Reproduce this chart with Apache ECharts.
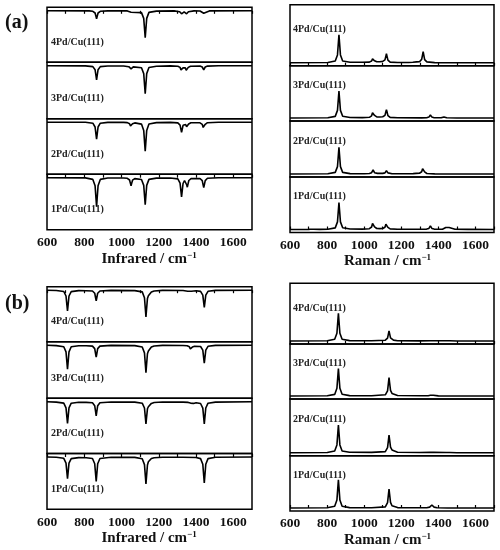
<!DOCTYPE html>
<html>
<head>
<meta charset="utf-8">
<script src="https://cdn.jsdelivr.net/npm/echarts@6/dist/echarts.min.js"></script>
<style>
  html, body { margin: 0; padding: 0; background: #fff; }
  #chart { width: 500px; height: 550px; }
</style>
</head>
<body>
<div id="chart"></div>
<script>
// wavenumber axis (cm^-1)
const xMin = 600;
const xMax = 1700;
const xTickLabels = [600, 800, 1000, 1200, 1400, 1600];
const sampleNames = ["4Pd/Cu(111)", "3Pd/Cu(111)", "2Pd/Cu(111)", "1Pd/Cu(111)"];

// (a) infrared, [wavenumber, intensity] (dips are negative)
const irA1 = [[600,0],[806,-0.2],[846,-1.7],[858,-8.1],[863,-21],[866,-29],[869,-21],[874,-8.1],[886,-1.7],[926,-0.3],
  [1011,-0.3],[1031,-0.6],[1043,-2.3],[1048,-5.9],[1051,-8],[1054,-5.9],[1059,-2.5],[1071,-0.9],
  [1107,-1.8],[1119,-7.7],[1124,-19.8],[1127,-27],[1130,-19.8],[1135,-7.7],[1147,-1.7],[1187,-0.4],
  [1262,-0.3],[1302,-1.2],[1314,-5.4],[1319,-14],[1322,-19.2],[1325,-14.2],[1330,-5.8],[1338,-2.8],[1345,-3.6],[1350,-7.3],[1353,-9.5],[1356,-7],[1361,-2.8],[1373,-0.9],
  [1421,-0.8],[1433,-2.9],[1438,-7.4],[1441,-10],[1444,-7.4],[1449,-2.9],[1461,-0.6],[1520,-0.1],[1700,0]];
const irA2 = [[600,0],[806,-0.1],[846,-1],[858,-4.8],[863,-12.4],[866,-17],[869,-12.4],[874,-4.8],[886,-1],[926,-0.2],
  [1011,-0.2],[1031,-0.4],[1043,-1.5],[1048,-3.7],[1051,-5],[1054,-3.7],[1059,-1.6],[1071,-0.7],
  [1107,-1.9],[1119,-8.2],[1124,-21.2],[1127,-29],[1130,-21.2],[1135,-8.2],[1147,-1.8],[1187,-0.4],
  [1262,-0.2],[1302,-0.7],[1314,-2.9],[1319,-7.4],[1322,-10.2],[1325,-7.6],[1330,-3.1],[1337,-1.6],[1344,-2.3],[1349,-4.6],[1352,-6.2],[1355,-4.6],[1360,-1.8],[1372,-0.6],
  [1421,-0.6],[1433,-2.1],[1438,-5.2],[1441,-7],[1444,-5.2],[1449,-2.1],[1461,-0.5],[1520,-0.1],[1700,0]];
const irA3 = [[600,0],[806,-0.1],[846,-0.8],[858,-3.9],[863,-10.2],[866,-14],[869,-10.2],[874,-3.9],[886,-0.8],[926,-0.2],
  [1011,-0.2],[1039,-0.9],[1051,-3],[1063,-1.1],
  [1107,-1.9],[1119,-7.8],[1124,-20.4],[1127,-28],[1130,-20.4],[1135,-7.8],[1147,-1.7],[1187,-0.4],
  [1262,-0.1],[1302,-0.4],[1314,-1.6],[1319,-4.1],[1322,-5.7],[1325,-4.4],[1330,-2.1],[1336,-1.8],[1342,-2.1],[1347,-4.4],[1350,-5.7],[1353,-4.1],[1358,-1.6],[1370,-0.4],
  [1421,-0.3],[1433,-1.2],[1441,-4],[1449,-1.2],[1461,-0.3],[1520,0],[1700,0]];
const irA4 = [[600,0],[826,-0.1],[846,-0.5],[858,-2.2],[863,-5.8],[866,-8],[869,-5.8],[874,-2.2],[886,-0.5],[926,-0.1],
  [1031,-0.1],[1041,-0.5],[1051,-1.5],[1061,-0.6],
  [1107,-1.8],[1119,-7.6],[1124,-19.7],[1127,-27],[1130,-19.7],[1135,-7.6],[1147,-1.6],[1187,-0.3],
  [1282,-0.1],[1312,-0.9],[1322,-3],[1330,-1.4],[1336,-1.1],[1341,-1.4],[1349,-3],[1359,-0.9],[1389,-0.1],
  [1421,-0.2],[1431,-0.8],[1441,-2.5],[1451,-0.8],[1471,-0.1],[1700,0]];

// (a) Raman
const raA1 = [[600,0],[700,0.1],[712,0.2],[720,0.4],[728,0.2],[760,0.1],[804,0.2],[844,1.6],[856,7.6],[861,19.7],[864,27],[867,19.7],[872,7.6],[884,1.7],[924,0.5],
  [990,0.4],[1028,0.8],[1040,2.5],[1045,6],[1048,8],[1051,6.1],[1056,2.7],[1068,1],[1084,0.9],[1100,1],[1112,2.3],[1117,5.3],[1120,7],[1123,5.2],[1128,2.1],[1140,0.6],[1180,0.2],
  [1300,0.2],[1337,0.4],[1349,1.1],[1357,3.7],[1365,1.1],[1377,0.4],[1422,0.3],[1432,0.8],[1440,2],[1449,1.2],[1458,2],[1466,0.7],[1490,0.2],[1560,0.1],[1700,0]];
const raA2 = [[600,0],[804,0.2],[844,1.6],[856,7.4],[861,19.4],[864,26.6],[867,19.4],[872,7.4],[884,1.6],[924,0.4],
  [1000,0.3],[1028,0.5],[1040,1.3],[1048,4],[1056,1.3],[1072,0.6],[1100,0.6],[1112,1.1],[1120,3.3],[1128,1.1],[1150,0.3],
  [1240,0.2],[1264,0.4],[1272,1.3],[1280,0.6],[1298,0.8],[1310,2.2],[1315,5.4],[1318,7.3],[1321,5.3],[1326,2.1],[1338,0.5],[1380,0.1],[1700,0]];
const raA3 = [[600,0],[804,0.2],[844,1.6],[856,7.6],[861,19.7],[864,27],[867,19.7],[872,7.6],[884,1.7],[924,0.5],
  [990,0.4],[1028,0.7],[1040,2.2],[1045,5.2],[1048,7],[1051,5.4],[1056,2.6],[1068,1.1],[1084,1],[1100,1.2],[1112,2.6],[1117,6.2],[1120,8.4],[1123,6.2],[1128,2.4],[1140,0.6],[1180,0.2],
  [1310,0.1],[1337,0.3],[1349,0.9],[1357,3],[1365,0.9],[1377,0.3],[1415,0.2],[1430,1],[1445,0.2],[1500,0],[1700,0]];
const raA4 = [[600,0],[804,0.2],[844,1.7],[856,7.8],[861,20.4],[864,28],[867,20.4],[872,7.8],[884,1.7],[924,0.5],
  [990,0.4],[1028,0.6],[1040,1.7],[1045,3.8],[1048,5],[1051,3.9],[1056,1.9],[1068,0.9],[1084,1],[1100,1.3],[1112,2.8],[1117,6.6],[1120,9],[1123,6.6],[1128,2.6],[1140,0.6],[1180,0.2],
  [1240,0.2],[1262,0.5],[1272,2],[1282,0.8],[1298,1],[1310,3.3],[1315,8.1],[1318,11],[1321,8.1],[1326,3.1],[1338,0.8],[1380,0.1],[1700,0]];

// (b) infrared
const irB1 = [[600,0],[650,-0.3],[690,-1.3],[702,-6.1],[707,-15.8],[710,-21.7],[713,-15.9],[718,-6.2],[730,-1.6],[770,-0.6],
  [810,-0.7],[844,-1.5],[856,-6.8],[861,-17.8],[864,-24.4],[867,-17.8],[872,-6.8],[884,-1.5],[944,-0.3],
  [1071,-0.4],[1111,-1.7],[1123,-7.6],[1128,-19.7],[1131,-27],[1134,-19.8],[1139,-8],[1144,-4.8],[1148,-5],[1152,-3.4],[1160,-1.5],[1175,-0.7],[1220,-0.2],
  [1330,-0.2],[1400,-0.5],[1424,-1.6],[1436,-7.3],[1441,-19],[1444,-26],[1447,-19],[1452,-7.3],[1464,-1.6],[1504,-0.3],[1700,0]];
const irB2 = [[600,0],[650,-0.3],[690,-1.3],[702,-6],[707,-15.8],[710,-21.6],[713,-15.8],[718,-6],[730,-1.4],[770,-0.5],
  [810,-0.6],[844,-1],[856,-3.9],[861,-10.2],[864,-14],[867,-10.2],[872,-3.9],[884,-1],[944,-0.2],
  [1071,-0.3],[1111,-1.4],[1123,-6.2],[1128,-16.1],[1131,-22],[1134,-16.2],[1139,-7],[1144,-4.9],[1148,-5.6],[1152,-3.8],[1160,-1.6],[1175,-0.7],[1220,-0.2],
  [1330,-0.3],[1358,-0.6],[1370,-1.3],[1378,-3],[1386,-1.6],[1400,-0.9],[1424,-1.7],[1436,-6.3],[1441,-16.1],[1444,-22],[1447,-16.1],[1452,-6.2],[1464,-1.4],[1504,-0.3],[1700,0]];
const irB3 = [[600,0],[650,-0.4],[690,-1.5],[702,-6.7],[707,-17.5],[710,-24],[713,-17.5],[718,-6.7],[730,-1.6],[770,-0.5],
  [810,-0.5],[844,-0.9],[856,-3.4],[861,-8.8],[864,-12],[867,-8.8],[872,-3.4],[884,-0.9],[944,-0.2],
  [1071,-0.4],[1111,-1.8],[1123,-7.7],[1128,-20],[1131,-27.4],[1134,-20.1],[1139,-8.5],[1144,-5.9],[1148,-6.7],[1152,-4.5],[1160,-1.9],[1175,-0.8],[1220,-0.2],
  [1330,-0.3],[1352,-0.6],[1364,-1.6],[1369,-3.7],[1372,-5],[1375,-3.9],[1380,-1.9],[1392,-1.1],[1424,-1.3],[1436,-5],[1441,-13.1],[1444,-18],[1447,-13.1],[1452,-5],[1464,-1.1],[1504,-0.2],[1700,0]];
const irB4 = [[600,0],[650,-0.3],[690,-1.3],[702,-5.8],[707,-15.1],[710,-20.7],[713,-15.1],[718,-5.8],[730,-1.4],[770,-0.4],
  [810,-0.5],[844,-0.8],[856,-3],[861,-7.8],[864,-10.7],[867,-7.8],[872,-3],[884,-0.8],[944,-0.2],
  [1071,-0.4],[1111,-1.7],[1123,-7.5],[1128,-19.5],[1131,-26.7],[1134,-19.6],[1139,-8.2],[1144,-5.5],[1148,-6.2],[1152,-4.2],[1160,-1.8],[1175,-0.8],[1220,-0.2],
  [1330,-0.3],[1355,-1],[1365,-2],[1375,-1],[1400,-0.5],[1424,-1.2],[1436,-4.9],[1441,-12.6],[1444,-17.3],[1447,-12.6],[1452,-4.9],[1464,-1.1],[1504,-0.2],[1700,0]];

// (b) Raman
const raB1 = [[600,0],[801,0.2],[841,1.7],[853,7.9],[858,20.7],[861,28.3],[864,20.7],[869,7.9],[881,1.7],[921,0.4],
  [1040,0.3],[1114,1.1],[1126,5.3],[1131,13.9],[1134,19],[1137,13.9],[1142,5.6],[1150,2.2],[1158,1],[1180,0.4],[1300,0.2],
  [1337,0.3],[1353,0.9],[1360,2.2],[1365,3],[1370,2.2],[1377,0.9],[1393,0.3],[1450,0],[1700,0]];
const raB2 = [[600,0],[801,0.2],[841,1.7],[853,7.8],[858,20.2],[861,27.7],[864,20.2],[869,7.8],[881,1.7],[921,0.4],
  [1040,0.3],[1114,1.1],[1126,5],[1131,12.9],[1134,17.7],[1137,13],[1142,5.6],[1150,2.8],[1158,1.3],[1180,0.5],[1300,0.2],
  [1355,0.3],[1365,1],[1375,0.3],[1442,0.2],[1452,0.5],[1462,0.2],[1500,0],[1700,0]];
const raB3 = [[600,0],[801,0.2],[841,1.6],[853,7.7],[858,20],[861,27.4],[864,20],[869,7.7],[881,1.7],[921,0.4],
  [1040,0.3],[1114,1.2],[1126,5.2],[1131,13.4],[1134,18.4],[1137,13.5],[1142,5.6],[1150,2.6],[1158,1.3],[1180,0.5],[1300,0.2],
  [1345,0.3],[1357,0.7],[1365,2],[1373,0.7],[1400,0.1],[1700,0]];
const raB4 = [[600,0],[801,0.2],[841,1.7],[853,7.8],[858,20.2],[861,27.7],[864,20.2],[869,7.8],[881,1.7],[921,0.4],
  [1040,0.2],[1114,0.8],[1126,2.9],[1131,7.3],[1134,10],[1137,7.4],[1142,3.2],[1150,1.8],[1158,0.9],[1180,0.3],[1300,0.1],
  [1355,0.3],[1365,1],[1375,0.3],[1442,0.3],[1452,1],[1462,0.3],[1500,0],[1700,0]];

// panel layout (pixels); tops holds the 4 subplot tops plus the bottom edge
const panels = [
  { left: 47, width: 205, tops: [7.3, 62.3, 118.7, 174.2, 229.7], kind: "ir", curves: [irA4, irA3, irA2, irA1], title: "Infrared" },
  { left: 290, width: 204, tops: [4.7, 65.7, 121, 177, 232.5], kind: "raman", curves: [raA4, raA3, raA2, raA1], title: "Raman" },
  { left: 47, width: 205, tops: [286.7, 341.7, 398.3, 453.5, 509.3], kind: "ir", curves: [irB4, irB3, irB2, irB1], title: "Infrared" },
  { left: 290, width: 204, tops: [283.3, 344, 399, 455.7, 511], kind: "raman", curves: [raB4, raB3, raB2, raB1], title: "Raman" },
];

const serif = "'Liberation Serif', 'DejaVu Serif', serif";
const grids = [], xAxes = [], yAxes = [], series = [], graphic = [];

panels.forEach((p) => {
  for (let i = 0; i < 4; i++) {
    const gi = grids.length;
    const top = p.tops[i];
    const h = p.tops[i + 1] - top;
    grids.push({
      left: p.left, top: top, width: p.width, height: h,
      show: true, borderColor: "#000", borderWidth: 1.5, backgroundColor: "transparent",
    });
    xAxes.push({
      gridIndex: gi, type: "value", min: xMin, max: xMax, interval: 100,
      show: i === 0 || i === 3,
      position: i === 0 ? "top" : "bottom",
      axisLine: { show: false },
      axisTick: { show: true, inside: true, length: 3, lineStyle: { color: "#000", width: 1.2 } },
      axisLabel: {
        show: i === 3, margin: 6, color: "#111", fontFamily: serif, fontWeight: "bold", fontSize: 13.5,
        formatter: (v) => (xTickLabels.includes(v) ? String(v) : ""),
      },
      splitLine: { show: false },
    });
    const yRange = p.kind === "ir" ? { min: -(h - 3.5), max: 3.5 } : { min: -3, max: h - 3 };
    yAxes.push({ gridIndex: gi, type: "value", show: false, ...yRange });
    series.push({
      type: "line", xAxisIndex: gi, yAxisIndex: gi, data: p.curves[i],
      showSymbol: false, silent: true, lineStyle: { color: "#000", width: 1.6 },
    });

    const bottom = p.tops[i + 1];
    graphic.push({
      type: "text",
      left: p.left + (p.kind === "ir" ? 4 : 3),
      top: p.kind === "ir" ? bottom - 25 : bottom - 41,
      style: { text: sampleNames[i], font: "bold 10px " + serif, fill: "#222" },
    });
  }
  const bottomEdge = p.tops[4];
  graphic.push({
    type: "text",
    left: p.left + p.width / 2 - 48,
    top: bottomEdge + 21,
    style: {
      text: "{m|" + p.title + " / cm}{s|−1}",
      rich: {
        m: { fontFamily: serif, fontWeight: "bold", fontSize: 15, fill: "#111", lineHeight: 16 },
        s: { fontFamily: serif, fontWeight: "bold", fontSize: 9, fill: "#111", lineHeight: 9, verticalAlign: "top" },
      },
    },
  });
});

graphic.push({ type: "text", left: 5, top: 13, style: { text: "(a)", font: "bold 20px " + serif, fill: "#111" } });
graphic.push({ type: "text", left: 5, top: 294, style: { text: "(b)", font: "bold 20px " + serif, fill: "#111" } });

const chart = echarts.init(document.getElementById("chart"));
chart.setOption({
  animation: false,
  backgroundColor: "#fff",
  grid: grids,
  xAxis: xAxes,
  yAxis: yAxes,
  series: series,
  graphic: graphic,
});
</script>
</body>
</html>
